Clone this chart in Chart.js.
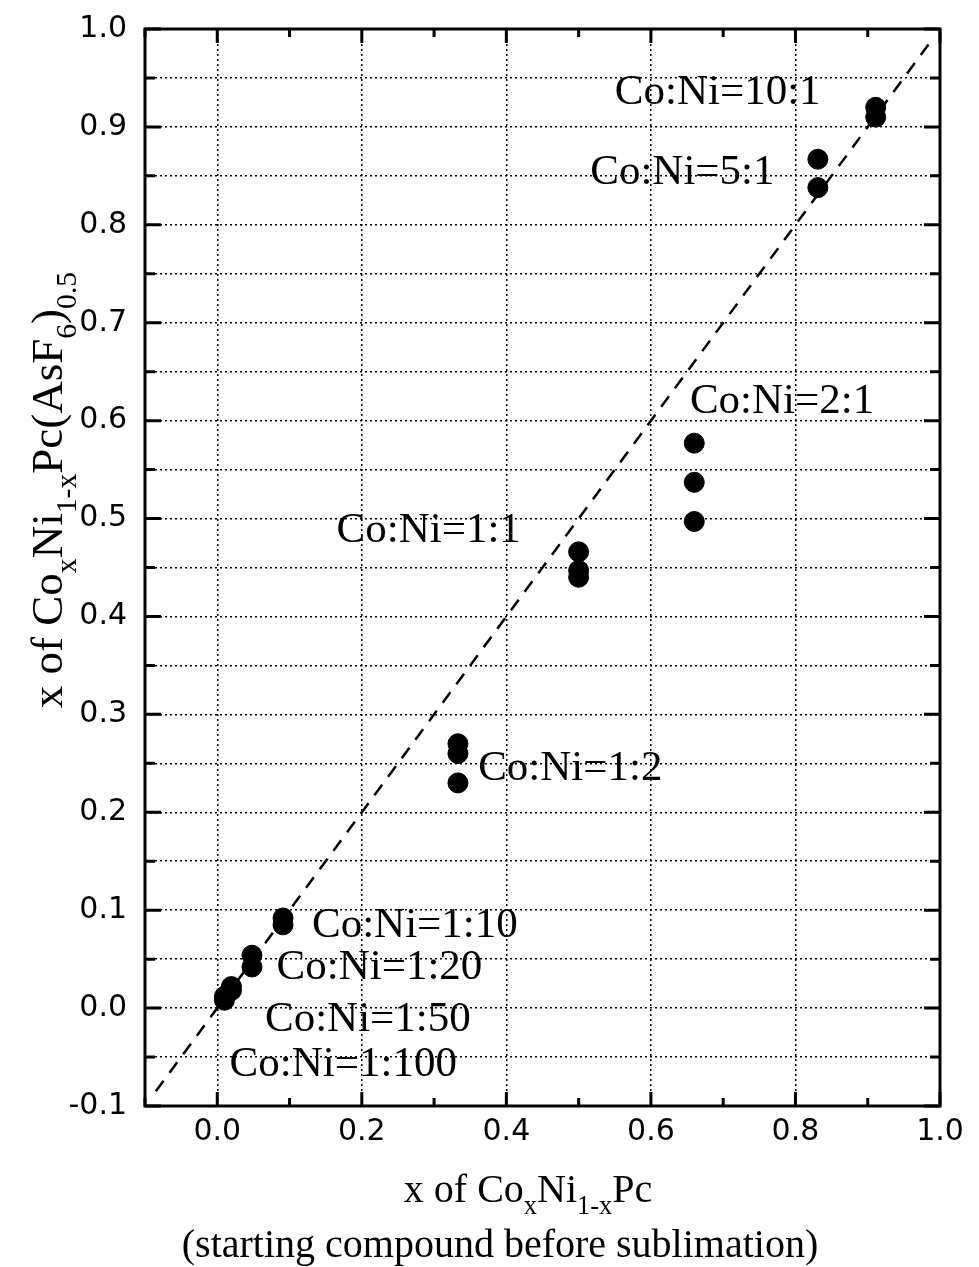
<!DOCTYPE html>
<html>
<head>
<meta charset="utf-8">
<script src="https://cdn.jsdelivr.net/npm/chart.js@4.4.1/dist/chart.umd.min.js"></script>
<style>
    body { margin: 0; background: #fff; }
    #wrap { width: 979px; height: 1267px; position: relative; }
</style>
</head>
<body>
<div id="wrap"><canvas id="chart"></canvas></div>
<script>
// starting x of CoxNi1-xPc, and measured x in the AsF6 salt
const startX = [0.0099, 0.0099, 0.0196, 0.0196, 0.048, 0.048, 0.091, 0.091,
    0.333, 0.333, 0.333, 0.5, 0.5, 0.5, 0.66, 0.66, 0.66, 0.831, 0.831, 0.911, 0.911];
const saltX = [0.008, 0.012, 0.018, 0.022, 0.042, 0.054, 0.085, 0.092,
    0.23, 0.26, 0.27, 0.44, 0.447, 0.466, 0.497, 0.537, 0.577, 0.838, 0.867, 0.91, 0.92];

// y = x reference line
const lineX = [-0.085, 0.985];
const lineY = [-0.085, 0.985];

const ratioLabels = ['Co:Ni=10:1', 'Co:Ni=5:1', 'Co:Ni=2:1', 'Co:Ni=1:1', 'Co:Ni=1:2',
    'Co:Ni=1:10', 'Co:Ni=1:20', 'Co:Ni=1:50', 'Co:Ni=1:100'];
const labelX = [0.55, 0.516, 0.654, 0.165, 0.361, 0.131, 0.082, 0.066, 0.017];
const labelY = [0.935, 0.853, 0.619, 0.488, 0.245, 0.084, 0.041, -0.012, -0.058];

const SERIF = '"Liberation Serif", "Times New Roman", serif';
const SANS = '"DejaVu Sans", Arial, sans-serif';

const isTenth = v => Math.abs(v * 10 - Math.round(v * 10)) < 1e-6;
const isFifth = v => isTenth(v) && Math.round(v * 10) % 2 === 0;

// text pieces with subscripts, drawn from x along baseline y
const SUB = 0.66;
function richWidth(ctx, parts, size) {
    let w = 0;
    parts.forEach(p => {
        ctx.font = `${p.sub ? size * SUB : size}px ${SERIF}`;
        w += ctx.measureText(p.t).width;
    });
    return w;
}
function drawRich(ctx, parts, x, y, size) {
    parts.forEach(p => {
        ctx.font = `${p.sub ? size * SUB : size}px ${SERIF}`;
        ctx.fillText(p.t, x, p.sub ? y + size * 0.3 : y);
        x += ctx.measureText(p.t).width;
    });
}

const xTitle = [{t: 'x of Co'}, {t: 'x', sub: true}, {t: 'Ni'}, {t: '1-x', sub: true}, {t: 'Pc'}];
const yTitle = [{t: 'x of Co'}, {t: 'x', sub: true}, {t: 'Ni'}, {t: '1-x', sub: true},
    {t: 'Pc(AsF'}, {t: '6', sub: true}, {t: ')'}, {t: '0.5', sub: true}];

const framePlugin = {
    id: 'frame',
    afterDraw(chart) {
        const {ctx, chartArea: a, scales: {x, y}} = chart;
        ctx.save();
        ctx.strokeStyle = '#000';
        ctx.lineWidth = 3;
        ctx.strokeRect(a.left, a.top, a.right - a.left, a.bottom - a.top);

        ctx.beginPath();
        y.ticks.forEach(t => {
            const py = y.getPixelForValue(t.value);
            const len = isTenth(t.value) ? 16 : 10;
            ctx.moveTo(a.left, py); ctx.lineTo(a.left + len, py);
            ctx.moveTo(a.right, py); ctx.lineTo(a.right - len, py);
        });
        x.ticks.forEach(t => {
            const px = x.getPixelForValue(t.value);
            const len = isFifth(t.value) ? 14 : 8;
            ctx.moveTo(px, a.bottom); ctx.lineTo(px, a.bottom - len);
            ctx.moveTo(px, a.top); ctx.lineTo(px, a.top + len);
        });
        ctx.stroke();

        // ratio labels
        ctx.fillStyle = '#000';
        ctx.textBaseline = 'middle';
        ctx.textAlign = 'left';
        ctx.font = `43px ${SERIF}`;
        ratioLabels.forEach((s, i) => {
            ctx.fillText(s, x.getPixelForValue(labelX[i]), y.getPixelForValue(labelY[i]));
        });

        // axis titles
        ctx.textBaseline = 'alphabetic';
        const w1 = richWidth(ctx, xTitle, 40);
        drawRich(ctx, xTitle, 528 - w1 / 2, 1202, 40);
        ctx.font = `40px ${SERIF}`;
        ctx.textAlign = 'center';
        ctx.fillText('(starting compound before sublimation)', 500, 1257);

        ctx.textAlign = 'left';
        ctx.translate(62, 490);
        ctx.rotate(-Math.PI / 2);
        const w2 = richWidth(ctx, yTitle, 45);
        drawRich(ctx, yTitle, -w2 / 2, 0, 45);
        ctx.restore();
    }
};

const dotted = [2, 3];

new Chart(document.getElementById('chart'), {
    type: 'scatter',
    data: {
        datasets: [{
            data: startX.map((v, i) => ({x: v, y: saltX[i]})),
            backgroundColor: '#000',
            borderColor: '#000',
            pointRadius: 10,
            pointHoverRadius: 10
        }, {
            type: 'line',
            data: lineX.map((v, i) => ({x: v, y: lineY[i]})),
            borderColor: '#000',
            borderWidth: 2.5,
            borderDash: [13, 10],
            pointRadius: 0,
            fill: false
        }]
    },
    options: {
        responsive: true,
        maintainAspectRatio: false,
        animation: false,
        layout: {padding: {top: 29, right: 39, left: 0, bottom: 0}},
        plugins: {legend: {display: false}, tooltip: {enabled: false}},
        scales: {
            x: {
                min: -0.1, max: 1.0,
                afterFit: s => { s.height = 161; s.paddingLeft = 0; s.paddingRight = 0; },
                ticks: {
                    stepSize: 0.1,
                    padding: 8,
                    color: '#000',
                    font: {family: SANS, size: 30},
                    maxRotation: 0,
                    autoSkip: false,
                    callback: v => (isFifth(v) && v > -0.05) ? v.toFixed(1) : ''
                },
                grid: {
                    drawTicks: false,
                    lineWidth: 1.5,
                    color: c => isFifth(c.tick.value) ? '#000' : 'rgba(0,0,0,0)'
                },
                border: {display: false, dash: dotted}
            },
            y: {
                min: -0.1, max: 1.0,
                afterFit: s => { s.width = 145; s.paddingTop = 0; s.paddingBottom = 0; },
                ticks: {
                    stepSize: 0.05,
                    padding: 18,
                    color: '#000',
                    font: {family: SANS, size: 30},
                    autoSkip: false,
                    callback: v => isTenth(v) ? v.toFixed(1) : ''
                },
                grid: {drawTicks: false, lineWidth: 1.5, color: '#000'},
                border: {display: false, dash: dotted}
            }
        }
    },
    plugins: [framePlugin]
});
</script>
</body>
</html>
